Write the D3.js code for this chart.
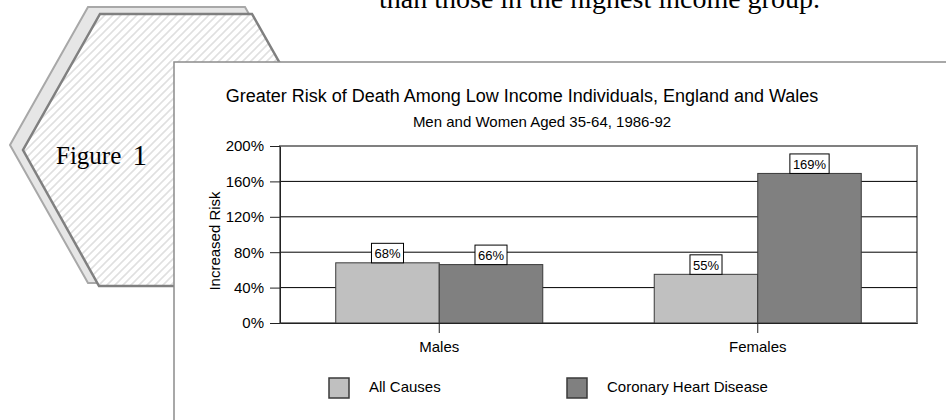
<!DOCTYPE html>
<html>
<head>
<meta charset="utf-8">
<script src="https://cdn.jsdelivr.net/npm/d3@7"></script>
<style>
  body { margin: 0; background: #fff; }
  svg { display: block; }
  text { font-family: "Liberation Sans", Arial, sans-serif; fill: #000; }
  .serif { font-family: "Liberation Serif", "Times New Roman", serif; }
</style>
</head>
<body>
<div id="chart"></div>
<script>
const categories = ["Males", "Females"];
const series = ["All Causes", "Coronary Heart Disease"];
const allCauses = [68, 55];
const coronary = [66, 169];
const yTicks = [0, 40, 80, 120, 160, 200];

const width = 946;
const height = 420;
const svg = d3.select("#chart")
    .append("svg")
    .attr("width", width)
    .attr("height", height);

// hatch pattern for the hexagon
const defs = svg.append("defs");
defs.append("pattern")
    .attr("id", "hatch")
    .attr("patternUnits", "userSpaceOnUse")
    .attr("width", 8)
    .attr("height", 8)
    .append("path")
    .attr("d", "M-2,2 l4,-4 M0,8 l8,-8 M6,10 l4,-4")
    .attr("stroke", "#e0e0e0")
    .attr("stroke-width", 1.6);

// back and front hexagons
svg.append("polygon")
    .attr("points", "88,7 245,7 323,145 245,283 88,283 10,145")
    .attr("fill", "#e6e6e6")
    .attr("stroke", "#a8a8a8")
    .attr("stroke-width", 2);

svg.append("polygon")
    .attr("points", "100,14 252,14 329,150 252,286 99,286 23,150")
    .attr("fill", "#fff")
    .attr("stroke", "none");
svg.append("polygon")
    .attr("points", "100,14 252,14 329,150 252,286 99,286 23,150")
    .attr("fill", "url(#hatch)")
    .attr("stroke", "#808080")
    .attr("stroke-width", 2.5);

svg.append("text")
    .attr("class", "serif")
    .attr("x", 56)
    .attr("y", 164)
    .style("font-size", "25px")
    .text("Figure ")
    .append("tspan")
    .attr("dx", 5)
    .attr("dy", 1)
    .style("font-size", "29px")
    .text("1");

svg.append("text")
    .attr("class", "serif")
    .attr("x", 379)
    .attr("y", 8)
    .style("font-size", "28px")
    .text("than those in the highest income group.");

// chart panel
svg.append("rect")
    .attr("x", 174)
    .attr("y", 62)
    .attr("width", 800)
    .attr("height", 400)
    .attr("fill", "#fff")
    .attr("stroke", "#8c8c8c")
    .attr("stroke-width", 1.5);

svg.append("text")
    .attr("x", 522)
    .attr("y", 102)
    .style("text-anchor", "middle")
    .style("font-size", "18px")
    .text("Greater Risk of Death Among Low Income Individuals, England and Wales");

svg.append("text")
    .attr("x", 542)
    .attr("y", 127)
    .style("text-anchor", "middle")
    .style("font-size", "15px")
    .text("Men and Women Aged 35-64, 1986-92");

const plot = { left: 280, right: 917, top: 146, bottom: 323 };

const xScale = d3.scaleBand()
    .domain(categories)
    .range([plot.left, plot.right]);

const x1 = d3.scaleBand()
    .domain(series)
    .range([xScale.bandwidth() * 0.175, xScale.bandwidth() * 0.825]);

const yScale = d3.scaleLinear()
    .domain([0, 200])
    .range([plot.bottom, plot.top]);

const colorScale = d3.scaleOrdinal()
    .domain(series)
    .range(["#c0c0c0", "#808080"]);

// plot frame
svg.append("rect")
    .attr("x", plot.left)
    .attr("y", plot.top)
    .attr("width", plot.right - plot.left)
    .attr("height", plot.bottom - plot.top)
    .attr("fill", "none")
    .attr("stroke", "#808080")
    .attr("stroke-width", 2);

// gridlines
svg.append("g")
    .selectAll("line")
    .data(yTicks.filter(d => d > 0 && d < 200))
    .enter()
    .append("line")
    .attr("x1", plot.left)
    .attr("x2", plot.right)
    .attr("y1", d => yScale(d))
    .attr("y2", d => yScale(d))
    .attr("stroke", "#000")
    .attr("stroke-width", 1);

const rows = [];
categories.forEach((c, i) => {
    rows.push({ cat: c, key: series[0], value: allCauses[i] });
    rows.push({ cat: c, key: series[1], value: coronary[i] });
});

svg.append("g")
    .selectAll("rect")
    .data(rows)
    .enter()
    .append("rect")
    .attr("x", d => xScale(d.cat) + x1(d.key))
    .attr("y", d => yScale(d.value))
    .attr("width", x1.bandwidth())
    .attr("height", d => yScale(0) - yScale(d.value))
    .attr("fill", d => colorScale(d.key))
    .attr("stroke", "#3a3a3a")
    .attr("stroke-width", 1);

// axes
const yAxis = d3.axisLeft(yScale)
    .tickValues(yTicks)
    .tickSize(10)
    .tickSizeOuter(0)
    .tickPadding(6)
    .tickFormat(d => d + "%");

const yG = svg.append("g")
    .attr("transform", `translate(${plot.left}, 0)`)
    .call(yAxis);
yG.selectAll("text").style("font-size", "15px").style("font-family", "Liberation Sans, Arial, sans-serif");
yG.selectAll("line, path").attr("stroke", "#222");

const xAxis = d3.axisBottom(xScale)
    .tickSize(10)
    .tickSizeOuter(0)
    .tickPadding(8.5);

const xG = svg.append("g")
    .attr("transform", `translate(0, ${plot.bottom})`)
    .call(xAxis);
xG.selectAll("text").style("font-size", "15px").style("font-family", "Liberation Sans, Arial, sans-serif");
xG.selectAll("line, path").attr("stroke", "#222");

svg.append("text")
    .attr("transform", "translate(220, 241) rotate(-90)")
    .style("text-anchor", "middle")
    .style("font-size", "15px")
    .text("Increased Risk");

// value labels in boxes
const labels = svg.append("g")
    .selectAll(".lab")
    .data(rows)
    .enter()
    .append("g")
    .attr("class", "lab")
    .attr("transform", d => `translate(${xScale(d.cat) + x1(d.key) + x1.bandwidth() / 2}, ${yScale(d.value)})`);

labels.append("rect")
    .attr("fill", "#fff")
    .attr("stroke", "#000")
    .attr("stroke-width", 1);

labels.append("text")
    .attr("y", -4.5)
    .style("text-anchor", "middle")
    .style("font-size", "13px")
    .text(d => d.value + "%");

labels.each(function() {
    const g = d3.select(this);
    const w = g.select("text").node().getComputedTextLength() + 6;
    g.select("rect")
        .attr("x", -w / 2)
        .attr("y", -19.5)
        .attr("width", w)
        .attr("height", 19.5);
});

// legend
const legendX = [329, 567];
const legend = svg.append("g")
    .selectAll(".legend")
    .data(series)
    .enter()
    .append("g")
    .attr("class", "legend")
    .attr("transform", (d, i) => `translate(${legendX[i]}, 378)`);

legend.append("rect")
    .attr("width", 20)
    .attr("height", 20)
    .attr("fill", colorScale)
    .attr("stroke", "#3a3a3a")
    .attr("stroke-width", 1.5);

legend.append("text")
    .attr("x", 40)
    .attr("y", 14)
    .style("font-size", "15px")
    .text(d => d);
</script>
</body>
</html>
